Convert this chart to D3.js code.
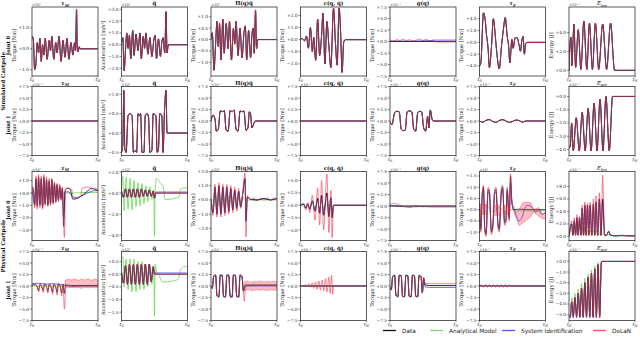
<!DOCTYPE html>
<html>
<head>
<meta charset="utf-8">
<script src="https://cdn.jsdelivr.net/npm/d3@7"></script>
<style>
body { margin: 0; background: #fff; }
svg { display: block; }
</style>
</head>
<body>
<script>
// ---- layout labels ----
const rowGroups = ["Simulated Cartpole", "Physical Cartpole"];
const jointLabels = ["Joint 0", "Joint 1", "Joint 0", "Joint 1"];
const colTitles = [["τ", "M"], ["q\u0308", ""], ["H(q)q\u0308", ""], ["c(q, q\u0307)", ""], ["g(q)", ""], ["τ", "F"]];
const energyTitles = [["E", "kin"], ["E", "pot"], ["E", "kin"], ["E", "pot"]];
const yLabels = ["Torque [Nm]", "Acceleration [m/s²]", "Torque [Nm]", "Torque [Nm]", "Torque [Nm]", "Torque [Nm]", "Energy [J]"];
const seriesNames = ["Data", "Analytical Model", "System Identification", "DeLaN"];

const sym = [-7.5, -5, -2.5, 0, 2.5, 5, 7.5];
const yDomains = [
  [[-1.3, 2.0], [-2.65, 3.2], [-1.6, 1.43], [-3.0, 2.7], [-7.5, 7.5], [-5.7, 6.0], [-0.6, 6.7]],
  [[-7.5, 7.5], [-0.58, 1.2], [-7.5, 7.5], [-7.5, 7.5], [-7.5, 7.5], [-7.5, 7.5], [-4.45, 0.75]],
  [[-3.85, 1.75], [-4.5, 2.05], [-2.85, 2.0], [-7.1, 6.8], [-7.5, 7.5], [-1.37, 1.7], [-0.65, 10.4]],
  [[-7.5, 7.5], [-1.83, 0.9], [-7.5, 7.5], [-7.5, 7.5], [-7.5, 7.5], [-7.5, 7.5], [-5.55, 0.93]]
];
const yTicks = [
  [[-1, 0, 1], [-2, -1, 0, 1, 2, 3], [-1, -0.5, 0, 0.5, 1], [-2, -1, 0, 1, 2], sym, [-4, -2, 0, 2, 4], [0, 2, 4]],
  [sym, [-0.5, 0, 0.5, 1], sym, sym, sym, sym, [-4, -3, -2, -1, 0]],
  [[-3, -2, -1, 0, 1], [-4, -2, 0, 2], [-2, -1, 0, 1, 2], [-5, -2.5, 0, 2.5, 5], sym, [-1, -0.5, 0, 0.5, 1, 1.5], [0, 2, 4, 6, 8]],
  [sym, [-1.5, -1, -0.5, 0, 0.5], sym, sym, sym, sym, [-5, -4, -3, -2, -1, 0]]
];
const exps = [
  ["×10¹", "×10¹", "×10¹", "", "×10⁻¹", "", "×10⁻¹"],
  ["×10⁻¹", "×10¹", "×10⁻¹", "×10⁻¹", "×10⁻¹", "×10⁻¹", "×10⁻¹"],
  ["×10¹", "×10¹", "×10¹", "", "×10⁻¹", "×10¹", "×10⁻¹"],
  ["×10⁻¹", "×10¹", "×10⁻¹", "×10⁻¹", "×10⁻¹", "×10⁻¹", "×10⁻¹"]
];

// ---- series: [t, value], t from t0 (0) to tN (1) ----
// simulated, joint 0
const r0c0Data = [[0,0.6],[0.02,0.45],[0.04,-1.0],[0.06,-0.7],[0.08,0.3],[0.1,-0.2],[0.12,0.5],[0.14,-0.6],[0.16,0.2],[0.18,-0.3],[0.2,0.5],[0.23,-0.5],[0.26,0.4],[0.28,-0.1],[0.3,0.6],[0.33,-0.5],[0.36,0.3],[0.38,-0.2],[0.41,0.6],[0.44,-0.6],[0.47,0.4],[0.5,-0.4],[0.53,0.5],[0.56,-0.5],[0.59,0.3],[0.62,-0.3],[0.645,0.3],[0.66,-0.1],[0.675,1.9],[0.685,0.1],[0.7,-0.15],[0.715,0.1],[0.73,0.0],[1,0.0]];
const r0c1Data = [[0,0.2],[0.02,0.6],[0.04,-2.2],[0.06,-0.5],[0.08,1.0],[0.1,-0.3],[0.12,0.8],[0.14,-1.2],[0.17,1.2],[0.19,-0.9],[0.22,0.9],[0.25,-0.5],[0.28,1.0],[0.3,-1.2],[0.33,0.7],[0.35,-0.3],[0.37,1.0],[0.4,-0.8],[0.43,0.6],[0.46,-1.0],[0.49,0.4],[0.51,0.8],[0.53,-1.2],[0.56,0.5],[0.59,-1.0],[0.61,0.2],[0.63,0.6],[0.655,-0.7],[0.675,2.8],[0.69,-0.7],[0.71,0.0],[1,0.0]];
const r0c2Data = [[0,0.0],[0.02,0.3],[0.045,-1.35],[0.07,-0.2],[0.09,0.8],[0.11,-0.3],[0.13,0.7],[0.15,-0.9],[0.18,0.9],[0.2,-0.6],[0.23,0.7],[0.26,-0.4],[0.28,0.8],[0.31,-0.9],[0.34,0.5],[0.36,-0.2],[0.38,0.8],[0.41,-0.7],[0.44,0.5],[0.47,-0.8],[0.5,0.3],[0.52,0.6],[0.54,-0.9],[0.57,0.4],[0.6,-0.8],[0.62,0.2],[0.64,0.5],[0.655,-0.6],[0.675,1.3],[0.69,-0.4],[0.71,0.0],[1,0.0]];
const r0c3Data = [[0,0.0],[0.03,0.1],[0.06,-0.1],[0.09,0.3],[0.12,-0.7],[0.15,1.0],[0.18,-1.0],[0.2,0.2],[0.23,-1.7],[0.26,1.7],[0.29,-1.3],[0.32,0.4],[0.34,2.2],[0.37,-2.0],[0.4,1.5],[0.43,-0.5],[0.46,-2.3],[0.5,2.6],[0.53,-0.3],[0.555,-2.1],[0.585,2.6],[0.61,0.3],[0.63,-2.7],[0.655,-0.2],[0.68,0.0],[1,0.0]];
const r0c4Data = [[0,0.0],[1,0.0]];
const r0c4Sysid = [[0,0.1],[0.3,0.1],[0.6,0.2],[0.7,0.3],[1,0.3]];
const r0c4Delan = [[0,0.4],[0.05,0.1],[0.1,0.4],[0.15,0.2],[0.2,0.5],[0.25,0.2],[0.3,0.4],[0.35,0.1],[0.4,0.3],[0.45,0.5],[0.5,0.2],[0.55,0.5],[0.6,0.1],[0.65,0.3],[0.7,-0.1],[1,-0.1]];
const r0c5Data = [[0,-4.0],[0.02,-3.5],[0.06,5.0],[0.09,3.5],[0.1,2.0],[0.13,-1.0],[0.15,-4.3],[0.18,-1.0],[0.21,4.0],[0.24,1.0],[0.26,-1.5],[0.3,-4.5],[0.33,-1.0],[0.36,2.0],[0.39,4.2],[0.42,1.0],[0.44,-0.5],[0.46,-3.5],[0.49,0.5],[0.51,-1.0],[0.54,0.8],[0.57,0.8],[0.6,-0.5],[0.62,-1.5],[0.64,0.2],[0.66,1.0],[0.68,-2.0],[0.7,-0.2],[0.72,0.0],[1,0.0]];
const r0c6Data = [[0,0.0],[0.02,3.2],[0.03,3.5],[0.045,0.5],[0.06,3.0],[0.075,4.9],[0.1,0.3],[0.14,4.3],[0.18,0.1],[0.225,5.2],[0.27,0.1],[0.31,5.0],[0.355,0.1],[0.4,5.0],[0.45,0.1],[0.51,4.9],[0.57,0.1],[0.63,5.0],[0.69,0.0],[1,0.0]];
// simulated, joint 1
const r1c0Data = [[0,0.0],[1,0.0]];
const r1c1Data = [[0,-0.5],[0.02,-0.3],[0.035,1.1],[0.05,-0.4],[0.07,-0.5],[0.1,0.45],[0.13,0.5],[0.16,0.45],[0.18,-0.5],[0.21,-0.45],[0.23,-0.5],[0.25,0.5],[0.27,0.45],[0.29,0.5],[0.31,-0.5],[0.34,-0.5],[0.36,0.45],[0.39,0.5],[0.41,0.4],[0.43,-0.5],[0.46,-0.45],[0.48,0.5],[0.52,0.45],[0.54,-0.5],[0.56,-0.4],[0.58,0.5],[0.61,0.45],[0.63,-0.5],[0.65,0.5],[0.675,1.1],[0.69,0.0],[1,0.0]];
const r1c2Data = [[0,0.0],[0.03,1.3],[0.06,0.5],[0.08,-2.2],[0.11,-1.8],[0.14,2.2],[0.18,2.0],[0.2,2.3],[0.23,-2.0],[0.26,-2.2],[0.29,2.3],[0.32,2.0],[0.35,2.4],[0.38,-1.8],[0.41,-2.2],[0.44,2.2],[0.47,2.0],[0.5,2.2],[0.53,-2.0],[0.56,-1.5],[0.58,2.0],[0.6,1.5],[0.62,-1.5],[0.65,-0.5],[0.67,0.0],[1,0.0]];
const r1c3Data = [[0,0.0],[1,0.0]];
const r1c4Data = [[0,-0.2],[0.03,-0.8],[0.07,1.8],[0.1,2.1],[0.14,2.0],[0.17,-1.8],[0.2,-2.1],[0.23,-2.0],[0.26,2.0],[0.3,2.2],[0.33,2.0],[0.36,-1.8],[0.39,-2.2],[0.42,1.8],[0.45,2.1],[0.48,2.0],[0.51,-1.5],[0.54,-2.2],[0.57,1.0],[0.59,-1.5],[0.61,2.4],[0.64,0.3],[0.66,0.0],[1,0.0]];
const r1c5Data = [[0,0.0],[0.05,-0.25],[0.1,0.15],[0.15,0.3],[0.2,-0.1],[0.25,-0.3],[0.3,0.1],[0.35,0.3],[0.4,0.0],[0.45,-0.3],[0.5,-0.1],[0.55,0.2],[0.6,0.1],[0.65,-0.25],[0.7,0.0],[1,0.0]];
const r1c6Data = [[0,-3.9],[0.02,-3.7],[0.04,-2.0],[0.065,-4.1],[0.11,-1.6],[0.155,-4.1],[0.2,-1.2],[0.245,-4.1],[0.29,-0.9],[0.335,-4.1],[0.38,-0.5],[0.425,-4.1],[0.47,-0.2],[0.515,-4.1],[0.56,0.0],[0.61,-4.1],[0.66,0.0],[1,0.0]];
// physical, joint 0
const r2c0Data = [[0,0.5],[0.02,0.3],[0.04,-1.0],[0.06,1.2],[0.08,-1.1],[0.1,1.3],[0.12,-1.0],[0.14,1.2],[0.16,-1.2],[0.18,1.3],[0.2,-0.9],[0.22,1.1],[0.24,-1.0],[0.26,1.0],[0.28,-0.9],[0.3,1.1],[0.32,-0.8],[0.34,0.8],[0.36,-0.7],[0.38,0.7],[0.4,-0.6],[0.42,0.6],[0.44,-0.5],[0.46,0.4],[0.48,-2.7],[0.5,0.2],[0.53,0.4],[0.58,0.3],[0.6,-0.2],[0.62,-0.5],[0.7,-0.4],[0.78,-0.1],[0.85,0.2],[0.9,0.4],[0.95,0.3],[1,0.2]];
const r2c0Model = [[0,0.1],[0.04,-0.3],[0.08,0.3],[0.12,-0.3],[0.16,0.3],[0.2,-0.2],[0.24,0.3],[0.28,-0.2],[0.32,0.2],[0.36,-0.2],[0.4,0.2],[0.44,-0.1],[0.48,0.0],[0.6,0.0],[0.8,0.05],[1,0.05]];
const r2c0Sysid = [[0,0.4],[0.04,-0.9],[0.06,1.1],[0.08,-1.0],[0.1,1.2],[0.12,-0.9],[0.14,1.1],[0.16,-1.1],[0.18,1.2],[0.2,-0.8],[0.22,1.0],[0.24,-0.9],[0.26,0.9],[0.28,-0.8],[0.3,1.0],[0.32,-0.7],[0.34,0.7],[0.36,-0.6],[0.38,0.6],[0.4,-0.5],[0.42,0.5],[0.44,-0.4],[0.46,0.3],[0.48,-2.0],[0.5,0.1],[0.55,0.1],[0.6,-0.2],[0.65,-0.4],[0.72,-0.3],[0.8,-0.1],[0.88,0.1],[0.95,0.2],[1,0.2]];
const r2c0Delan = [[0,0.6],[0.02,0.2],[0.04,-1.2],[0.06,1.4],[0.08,-1.3],[0.1,1.5],[0.12,-1.2],[0.14,1.4],[0.16,-1.3],[0.18,1.5],[0.2,-1.0],[0.22,1.3],[0.24,-1.1],[0.26,1.2],[0.28,-1.0],[0.3,1.2],[0.32,-0.9],[0.34,0.9],[0.36,-0.8],[0.38,0.8],[0.4,-0.7],[0.42,0.7],[0.44,-0.6],[0.46,0.5],[0.49,-3.6],[0.51,0.3],[0.55,0.4],[0.6,0.3],[0.62,-0.3],[0.68,-0.4],[0.74,-0.2],[0.76,0.4],[0.85,0.5],[0.9,0.3],[0.95,0.4],[1,0.3]];
const r2c1Data = [[0,0.2],[0.03,-0.4],[0.06,0.4],[0.09,-0.4],[0.12,0.4],[0.15,-0.4],[0.18,0.4],[0.21,-0.4],[0.24,0.4],[0.27,-0.4],[0.3,0.4],[0.33,-0.3],[0.36,0.3],[0.39,-0.3],[0.42,0.3],[0.45,-0.3],[0.48,0.2],[0.5,-0.5],[0.52,0.0],[1,0.0]];
const r2c1Model = [[0,0.3],[0.02,1.6],[0.04,-1.7],[0.07,1.5],[0.1,-1.5],[0.13,1.4],[0.16,-1.6],[0.19,1.2],[0.22,-1.3],[0.25,1.0],[0.28,-1.2],[0.31,0.9],[0.34,-1.0],[0.37,0.7],[0.4,-0.8],[0.43,0.6],[0.46,-0.6],[0.49,0.3],[0.5,-4.1],[0.51,0.2],[0.53,1.4],[0.58,1.0],[0.63,0.6],[0.66,-0.6],[0.72,-0.6],[0.8,-0.5],[0.87,-0.4],[0.9,0.4],[0.95,0.5],[1,0.5]];
const r2c1Sysid = [[0,0.2],[0.03,-0.4],[0.06,0.4],[0.09,-0.4],[0.12,0.4],[0.15,-0.4],[0.18,0.4],[0.21,-0.4],[0.24,0.4],[0.27,-0.4],[0.3,0.4],[0.33,-0.3],[0.36,0.3],[0.39,-0.3],[0.42,0.3],[0.45,-0.3],[0.48,0.2],[0.5,-0.4],[0.52,0.1],[1,0.1]];
const r2c2Data = [[0,0.1],[0.03,-0.9],[0.06,0.9],[0.09,-1.0],[0.12,1.0],[0.15,-1.0],[0.18,0.9],[0.21,-0.9],[0.24,0.9],[0.27,-0.8],[0.3,0.8],[0.33,-0.7],[0.36,0.7],[0.39,-0.6],[0.42,0.6],[0.45,-0.5],[0.48,0.4],[0.515,1.5],[0.53,-1.5],[0.55,0.2],[0.6,0.05],[0.7,0.0],[0.8,0.1],[0.9,0.0],[1,0.1]];
const r2c2Model = [[0,0.0],[0.03,-0.5],[0.06,0.5],[0.09,-0.6],[0.12,0.6],[0.15,-0.6],[0.18,0.5],[0.21,-0.5],[0.24,0.5],[0.27,-0.4],[0.3,0.4],[0.33,-0.4],[0.36,0.4],[0.39,-0.3],[0.42,0.3],[0.45,-0.3],[0.48,0.2],[0.52,0.0],[1,0.0]];
const r2c2Delan = [[0,0.1],[0.03,-1.1],[0.06,1.1],[0.09,-1.2],[0.12,1.2],[0.15,-1.2],[0.18,1.1],[0.21,-1.1],[0.24,1.1],[0.27,-1.0],[0.3,1.0],[0.33,-0.9],[0.36,0.9],[0.39,-0.8],[0.42,0.8],[0.45,-0.6],[0.48,0.5],[0.515,1.9],[0.53,-2.6],[0.55,0.3],[0.6,0.0],[0.65,0.15],[0.7,-0.05],[0.75,0.1],[0.8,0.0],[0.85,0.15],[0.9,0.0],[0.95,0.15],[1,0.1]];
const r2c3Data = [[0,0.0],[0.05,0.2],[0.08,-0.6],[0.11,0.3],[0.14,-0.8],[0.18,0.9],[0.22,-1.2],[0.26,1.4],[0.29,-1.6],[0.32,2.0],[0.35,-2.0],[0.4,2.5],[0.43,-2.3],[0.46,1.5],[0.48,-2.5],[0.5,0.0],[1,0.0]];
const r2c3Model = [[0,0.0],[0.08,-0.3],[0.14,-0.4],[0.18,0.4],[0.22,-0.6],[0.26,0.7],[0.29,-0.8],[0.32,1.0],[0.35,-1.0],[0.4,1.2],[0.43,-1.1],[0.46,0.7],[0.48,-1.2],[0.5,0.0],[1,0.0]];
const r2c3Delan = [[0,0.0],[0.05,0.4],[0.08,-1.0],[0.11,0.5],[0.14,-1.5],[0.18,2.0],[0.22,-3.0],[0.26,3.5],[0.29,-4.0],[0.32,5.0],[0.35,-5.0],[0.4,6.3],[0.43,-5.5],[0.46,3.0],[0.48,-6.5],[0.5,0.0],[1,0.0]];
const r2c4Data = [[0,0.0],[1,0.0]];
const r2c4Sysid = [[0,0.1],[0.3,-0.2],[0.5,-0.1],[0.6,-0.2],[1,-0.2]];
const r2c4Delan = [[0,0.3],[0.05,0.6],[0.1,0.4],[0.2,0.0],[0.3,-0.3],[0.4,0.1],[0.5,-0.2],[0.6,0.0],[1,0.0]];
const r2c5Data = [[0,0.3],[0.02,-0.9],[0.04,0.6],[0.06,1.0],[0.08,-0.9],[0.1,-1.1],[0.13,0.9],[0.15,0.8],[0.18,-1.0],[0.2,-0.8],[0.23,0.8],[0.25,0.9],[0.28,-0.7],[0.3,-0.9],[0.33,0.8],[0.35,1.0],[0.38,-0.6],[0.4,-0.5],[0.42,0.9],[0.45,-0.4],[0.47,1.5],[0.49,0.4],[0.51,0.0],[0.6,0.02],[0.8,0.0],[1,0.0]];
const r2c5Model = [[0,0.0],[0.05,-0.2],[0.1,0.2],[0.2,-0.1],[0.3,0.1],[0.4,-0.1],[0.5,0.0],[0.55,-0.05],[0.7,-0.05],[1,-0.05]];
const r2c5Sysid = [[0,0.3],[0.02,-0.8],[0.04,0.6],[0.06,0.9],[0.08,-0.8],[0.1,-1.0],[0.13,0.8],[0.15,0.7],[0.18,-0.9],[0.2,-0.7],[0.23,0.7],[0.25,0.8],[0.28,-0.6],[0.3,-0.8],[0.33,0.7],[0.35,0.9],[0.38,-0.5],[0.4,-0.4],[0.42,0.8],[0.45,-0.3],[0.47,1.2],[0.49,0.3],[0.52,0.1],[0.56,-0.3],[0.6,-0.5],[0.65,-0.3],[0.68,0.0],[0.72,0.2],[0.8,0.1],[0.85,-0.1],[0.9,0.0],[0.94,-0.2],[1,-0.15]];
const r2c5Delan = [[0,0.3],[0.02,-1.0],[0.04,0.7],[0.06,1.1],[0.08,-1.0],[0.1,-1.2],[0.13,1.0],[0.15,0.9],[0.18,-1.1],[0.2,-0.9],[0.23,0.9],[0.25,1.0],[0.28,-0.8],[0.3,-1.0],[0.33,0.9],[0.35,1.1],[0.38,-0.7],[0.4,-0.6],[0.42,1.0],[0.45,-0.5],[0.47,1.6],[0.49,0.4],[0.52,0.0]];
const r2c5Band = [[0.01,-0.2,0.25],[0.1,-0.2,0.25],[0.11,null,null],[0.22,-0.25,0.2],[0.32,-0.25,0.2],[0.33,null,null],[0.37,-0.2,0.2],[0.46,-0.2,0.2],[0.47,null,null],[0.52,-0.1,0.0],[0.56,-0.4,-0.1],[0.6,-0.7,0.0],[0.65,-0.6,0.3],[0.7,-0.5,0.35],[0.78,-0.3,0.3],[0.82,-0.1,0.0],[0.86,-0.2,0.05],[0.9,-0.3,0.1],[0.95,-0.4,-0.2],[1,-0.4,-0.1]];
const r2c6Data = [[0,0.0],[0.04,2.0],[0.06,0.2],[0.08,2.5],[0.1,0.2],[0.12,3.0],[0.14,0.2],[0.16,3.0],[0.18,0.2],[0.2,4.5],[0.22,0.2],[0.24,5.0],[0.26,0.2],[0.28,5.0],[0.3,0.2],[0.32,5.0],[0.345,0.2],[0.37,5.2],[0.39,0.2],[0.41,5.5],[0.435,0.2],[0.46,6.0],[0.485,0.2],[0.51,6.0],[0.54,0.2],[0.57,0.2],[0.6,0.8],[0.63,0.2],[0.7,0.1],[0.8,0.15],[0.9,0.1],[1,0.1]];
const r2c6Model = [[0,0.0],[0.04,1.0],[0.06,0.2],[0.08,2.0],[0.1,0.3],[0.12,2.5],[0.14,0.3],[0.16,2.5],[0.18,0.3],[0.2,1.5],[0.22,0.2],[0.24,1.5],[0.26,0.2],[0.28,1.0],[0.3,0.2],[0.32,1.0],[0.345,0.2],[0.37,1.0],[0.39,0.2],[0.41,1.0],[0.435,0.1],[0.46,0.5],[0.485,0.1],[0.51,0.5],[0.54,0.1],[0.6,0.3],[0.7,0.1],[1,0.1]];
const r2c6Delan = [[0,0.0],[0.04,2.5],[0.06,0.2],[0.08,3.0],[0.1,0.2],[0.12,3.5],[0.14,0.2],[0.16,3.2],[0.18,0.2],[0.2,5.0],[0.22,0.2],[0.24,5.5],[0.26,0.2],[0.28,5.3],[0.3,0.2],[0.32,5.5],[0.345,0.2],[0.37,6.0],[0.39,0.2],[0.41,6.5],[0.435,0.2],[0.46,7.0],[0.485,0.2],[0.51,9.8],[0.54,0.2],[0.57,0.2],[0.6,0.9],[0.63,0.2],[0.7,0.1],[0.8,0.2],[0.9,0.1],[1,0.1]];
// physical, joint 1
const r3c0Data = [[0,0.1],[0.05,0.3],[0.08,-0.2],[0.1,-1.0],[0.12,0.3],[0.15,-0.2],[0.17,-1.0],[0.19,0.4],[0.22,-0.1],[0.24,-1.2],[0.26,0.3],[0.29,-0.2],[0.31,-1.3],[0.33,0.3],[0.36,-0.2],[0.38,-1.4],[0.4,0.4],[0.43,-0.2],[0.45,-1.5],[0.47,0.3],[0.49,-1.6],[0.51,0.2],[0.6,0.1],[0.8,0.1],[1,0.1]];
const r3c0Model = [[0,0.0],[1,0.0]];
const r3c0Sysid = [[0,0.5],[0.1,0.6],[0.2,0.4],[0.3,0.5],[0.4,0.4],[0.5,0.2],[0.6,-0.1],[0.8,0.0],[1,0.0]];
const r3c0Delan = [[0,0.2],[0.05,0.5],[0.08,-0.3],[0.1,-1.3],[0.12,0.5],[0.15,-0.3],[0.17,-1.4],[0.19,0.6],[0.22,-0.2],[0.24,-1.6],[0.26,0.5],[0.29,-0.3],[0.31,-1.8],[0.33,0.5],[0.36,-0.3],[0.38,-2.0],[0.4,0.6],[0.43,-0.3],[0.45,-2.2],[0.47,0.4],[0.49,-5.0],[0.51,0.5]];
const r3c0Band = [[0.5,-0.3,1.2],[0.55,-0.4,1.5],[0.6,-0.3,1.3],[0.65,-0.4,1.6],[0.7,-0.3,1.2],[0.75,-0.5,1.5],[0.8,-0.3,1.3],[0.85,-0.4,1.6],[0.9,-0.3,1.2],[0.95,-0.4,1.5],[1,-0.3,1.3]];
const r3c1Data = [[0,0.1],[0.03,-0.35],[0.06,0.35],[0.09,-0.4],[0.12,0.4],[0.15,-0.4],[0.18,0.4],[0.21,-0.4],[0.24,0.4],[0.27,-0.4],[0.3,0.4],[0.33,-0.4],[0.36,0.4],[0.39,-0.4],[0.42,0.4],[0.45,-0.3],[0.48,0.3],[0.5,0.0],[1,0.0]];
const r3c1Model = [[0,0.6],[0.02,0.7],[0.04,-0.5],[0.07,0.6],[0.1,-0.6],[0.13,0.6],[0.16,-0.7],[0.19,0.6],[0.22,-0.7],[0.25,0.5],[0.28,-0.6],[0.31,0.5],[0.34,-0.6],[0.37,0.4],[0.4,-0.5],[0.43,0.4],[0.46,-0.4],[0.49,0.3],[0.5,-1.65],[0.51,0.4],[0.53,0.1],[0.58,-0.1],[0.62,-0.3],[0.7,-0.3],[0.8,-0.25],[0.86,-0.2],[0.9,0.2],[0.95,0.3],[1,0.3]];
const r3c1Sysid = [[0,0.1],[0.03,-0.35],[0.06,0.35],[0.09,-0.4],[0.12,0.4],[0.15,-0.4],[0.18,0.4],[0.21,-0.4],[0.24,0.4],[0.27,-0.4],[0.3,0.4],[0.33,-0.4],[0.36,0.4],[0.39,-0.4],[0.42,0.4],[0.45,-0.3],[0.48,0.3],[0.5,0.05],[1,0.05]];
const r3c2Data = [[0,0.0],[0.02,-0.5],[0.04,2.0],[0.07,2.3],[0.09,-2.0],[0.12,-2.3],[0.14,2.3],[0.17,2.2],[0.19,-2.2],[0.22,-2.3],[0.24,2.3],[0.27,2.2],[0.29,-2.2],[0.32,-2.3],[0.34,2.3],[0.37,2.2],[0.39,-2.2],[0.42,-2.3],[0.44,2.3],[0.47,2.0],[0.49,-1.0],[0.5,-0.8],[0.52,0.2],[0.6,0.2],[1,0.2]];
const r3c2Sysid = [[0,0.0],[0.02,-0.5],[0.04,2.2],[0.07,2.5],[0.09,-2.2],[0.12,-2.5],[0.14,2.5],[0.17,2.4],[0.19,-2.4],[0.22,-2.5],[0.24,2.5],[0.27,2.4],[0.29,-2.4],[0.32,-2.5],[0.34,2.5],[0.37,2.4],[0.39,-2.4],[0.42,-2.5],[0.44,2.5],[0.47,2.2],[0.49,-1.2],[0.5,-0.8],[0.52,0.0],[1,0.0]];
const r3c2Delan = [[0,0.0],[0.02,-0.5],[0.04,2.0],[0.07,2.3],[0.09,-2.0],[0.12,-2.3],[0.14,2.3],[0.17,2.2],[0.19,-2.2],[0.22,-2.3],[0.24,2.3],[0.27,2.2],[0.29,-2.2],[0.32,-2.3],[0.34,2.3],[0.37,2.2],[0.39,-2.2],[0.42,-2.3],[0.44,2.3],[0.47,2.0],[0.49,-1.0],[0.505,-3.3],[0.52,0.2]];
const r3c2Band = [[0.51,-1.0,0.9],[0.55,-0.8,1.1],[0.6,-0.9,0.8],[0.65,-1.0,1.0],[0.7,-0.8,0.9],[0.75,-0.9,1.1],[0.8,-0.8,0.8],[0.85,-1.0,1.0],[0.9,-0.8,0.9],[0.95,-0.9,1.0],[1,-0.8,0.9]];
const r3c3Data = [[0,0.0],[1,0.0]];
const r3c3Delan = [[0,0.0],[0.05,0.0],[0.08,0.3],[0.1,-0.2],[0.13,0.5],[0.15,-0.3],[0.18,0.7],[0.2,-0.5],[0.23,0.9],[0.25,-0.7],[0.28,1.1],[0.3,-0.9],[0.33,1.3],[0.35,-1.1],[0.38,1.6],[0.4,-1.3],[0.43,1.9],[0.45,-1.6],[0.47,2.3],[0.49,-1.8],[0.5,0.0],[1,0.0]];
const r3c4Data = [[0,-0.2],[0.02,-0.8],[0.04,2.0],[0.07,2.3],[0.09,-2.0],[0.12,-2.3],[0.14,2.3],[0.17,2.2],[0.19,-2.2],[0.22,-2.3],[0.24,2.3],[0.27,2.2],[0.29,-2.2],[0.32,-2.3],[0.34,2.3],[0.37,2.2],[0.39,-2.2],[0.42,-2.3],[0.44,2.3],[0.47,2.0],[0.49,-1.5],[0.51,1.8],[0.53,0.3],[0.6,0.1],[1,0.1]];
const r3c4Sysid = [[0,-0.2],[0.02,-0.8],[0.04,2.1],[0.07,2.4],[0.09,-2.1],[0.12,-2.4],[0.14,2.4],[0.17,2.3],[0.19,-2.3],[0.22,-2.4],[0.24,2.4],[0.27,2.3],[0.29,-2.3],[0.32,-2.4],[0.34,2.4],[0.37,2.3],[0.39,-2.3],[0.42,-2.4],[0.44,2.4],[0.47,2.1],[0.49,-1.5],[0.51,1.5],[0.53,-0.2],[0.6,-0.3],[1,-0.3]];
const r3c4Delan = [[0,-0.2],[0.02,-0.8],[0.04,2.0],[0.07,2.3],[0.09,-2.0],[0.12,-2.3],[0.14,2.3],[0.17,2.2],[0.19,-2.2],[0.22,-2.3],[0.24,2.3],[0.27,2.2],[0.29,-2.2],[0.32,-2.3],[0.34,2.3],[0.37,2.2],[0.39,-2.2],[0.42,-2.3],[0.44,2.3],[0.47,2.0],[0.49,-1.5],[0.51,1.8],[0.53,0.6],[0.6,0.5],[1,0.5]];
const r3c5Data = [[0,0.0],[1,0.0]];
const r3c5Sysid = [[0,0.0],[0.03,0.2],[0.06,-0.2],[0.09,0.25],[0.12,-0.2],[0.15,0.25],[0.18,-0.2],[0.21,0.25],[0.24,-0.2],[0.27,0.25],[0.3,-0.2],[0.33,0.25],[0.36,-0.2],[0.39,0.25],[0.42,-0.2],[0.45,0.25],[0.48,-0.1],[0.5,0.0],[1,0.0]];
const r3c5Model = [[0,0.0],[0.03,0.1],[0.06,-0.1],[0.09,0.15],[0.12,-0.1],[0.15,0.15],[0.18,-0.1],[0.21,0.15],[0.24,-0.1],[0.27,0.15],[0.3,-0.1],[0.33,0.15],[0.36,-0.1],[0.39,0.15],[0.42,-0.1],[0.45,0.1],[0.5,0.0],[1,0.0]];
const r3c6Data = [[0,-5.2],[0.02,-5.2],[0.04,-3.8],[0.065,-5.2],[0.09,-3.4],[0.115,-5.2],[0.14,-3.0],[0.165,-5.2],[0.19,-2.5],[0.215,-5.2],[0.24,-2.0],[0.265,-5.2],[0.29,-1.5],[0.315,-5.2],[0.34,-1.1],[0.365,-5.2],[0.39,-0.7],[0.415,-5.2],[0.44,-0.3],[0.465,-5.2],[0.49,-0.1],[0.5,0.0],[1,0.0]];
const r3c6Model = [[0,-4.2],[0.03,-4.2],[0.045,-3.4],[0.065,-5.0],[0.09,-3.0],[0.115,-5.0],[0.14,-2.6],[0.165,-5.0],[0.19,-2.1],[0.215,-5.0],[0.24,-1.6],[0.265,-5.0],[0.29,-1.2],[0.315,-5.0],[0.34,-0.8],[0.365,-5.0],[0.39,-0.4],[0.415,-5.0],[0.44,-0.1],[0.465,-5.0],[0.49,0.0],[0.5,0.0],[1,0.0]];
const r3c6Sysid = [[0,-5.0],[0.02,-5.3],[0.04,-3.8],[0.065,-5.3],[0.09,-3.4],[0.115,-5.3],[0.14,-3.0],[0.165,-5.3],[0.19,-2.5],[0.215,-5.3],[0.24,-2.0],[0.265,-5.3],[0.29,-1.5],[0.315,-5.3],[0.34,-1.1],[0.365,-5.3],[0.39,-0.7],[0.415,-5.3],[0.44,-0.3],[0.465,-5.3],[0.49,-0.1],[0.5,0.0],[1,0.0]];

// which arrays go in which panel (missing series fall back to the data array)
const panels = [
  {r:0,c:0,data:r0c0Data},{r:0,c:1,data:r0c1Data},{r:0,c:2,data:r0c2Data},{r:0,c:3,data:r0c3Data},
  {r:0,c:4,data:r0c4Data,sysid:r0c4Sysid,delan:r0c4Delan},{r:0,c:5,data:r0c5Data},{r:0,c:6,data:r0c6Data},
  {r:1,c:0,data:r1c0Data},{r:1,c:1,data:r1c1Data},{r:1,c:2,data:r1c2Data},{r:1,c:3,data:r1c3Data},
  {r:1,c:4,data:r1c4Data},{r:1,c:5,data:r1c5Data},{r:1,c:6,data:r1c6Data},
  {r:2,c:0,data:r2c0Data,model:r2c0Model,sysid:r2c0Sysid,delan:r2c0Delan},
  {r:2,c:1,data:r2c1Data,model:r2c1Model,sysid:r2c1Sysid},
  {r:2,c:2,data:r2c2Data,model:r2c2Model,delan:r2c2Delan},
  {r:2,c:3,data:r2c3Data,model:r2c3Model,delan:r2c3Delan},
  {r:2,c:4,data:r2c4Data,sysid:r2c4Sysid,delan:r2c4Delan},
  {r:2,c:5,data:r2c5Data,model:r2c5Model,sysid:r2c5Sysid,delan:r2c5Delan,band:r2c5Band},
  {r:2,c:6,data:r2c6Data,model:r2c6Model,delan:r2c6Delan},
  {r:3,c:0,data:r3c0Data,model:r3c0Model,sysid:r3c0Sysid,delan:r3c0Delan,band:r3c0Band},
  {r:3,c:1,data:r3c1Data,model:r3c1Model,sysid:r3c1Sysid},
  {r:3,c:2,data:r3c2Data,sysid:r3c2Sysid,delan:r3c2Delan,band:r3c2Band},
  {r:3,c:3,data:r3c3Data,delan:r3c3Delan},
  {r:3,c:4,data:r3c4Data,sysid:r3c4Sysid,delan:r3c4Delan},
  {r:3,c:5,data:r3c5Data,model:r3c5Model,sysid:r3c5Sysid},
  {r:3,c:6,data:r3c6Data,model:r3c6Model,sysid:r3c6Sysid}
];

// ---- drawing ----
const W = 640, H = 337;
const serif = "'DejaVu Serif', serif";
const colors = {data: "#111", model: "#62d64e", sysid: "#3a3aff", delan: "#f0304a"};
const pw = 66, ph = 69;
const colX = d3.range(7).map(c => 32 + c * 89.5);
const rowY = [7, 86.5, 171.5, 251.5];
const fmt = d3.format("+.1f");

const svg = d3.select("body").append("svg")
  .attr("width", W)
  .attr("height", H);

svg.append("rect").attr("width", W).attr("height", H).attr("fill", "#fff");

const defs = svg.append("defs");

panels.forEach(p => {
  const left = colX[p.c], top = rowY[p.r];
  const x = d3.scaleLinear().domain([0, 1]).range([left, left + pw]);
  const y = d3.scaleLinear().domain(yDomains[p.r][p.c]).range([top + ph, top]);
  const g = svg.append("g");
  const clipId = "clip" + p.r + p.c;

  defs.append("clipPath").attr("id", clipId)
    .append("rect").attr("x", left).attr("y", top).attr("width", pw).attr("height", ph);

  const line = d3.line().x(d => x(d[0])).y(d => y(d[1])).curve(d3.curveMonotoneX);
  const plot = g.append("g").attr("clip-path", "url(#" + clipId + ")");

  const draw = (arr, col, width, op) => plot.append("path")
    .attr("d", line(arr))
    .attr("fill", "none")
    .attr("stroke", col)
    .attr("stroke-width", width)
    .attr("stroke-opacity", op)
    .attr("stroke-linejoin", "round");

  draw(p.model || p.data, colors.model, 0.9, 0.85);
  draw(p.sysid || p.data, colors.sysid, 0.9, 0.85);
  draw(p.data, colors.data, 0.8, 1);
  if (p.band) {
    const area = d3.area()
      .defined(d => d[1] !== null)
      .x(d => x(d[0])).y0(d => y(d[1])).y1(d => y(d[2]));
    plot.append("path")
      .attr("d", area(p.band))
      .attr("fill", colors.delan)
      .attr("fill-opacity", 0.32)
      .attr("stroke", colors.delan)
      .attr("stroke-opacity", 0.6)
      .attr("stroke-width", 0.6);
  }
  draw(p.delan || p.data, colors.delan, 1.0, 0.6);

  // frame
  g.append("rect")
    .attr("x", left).attr("y", top).attr("width", pw).attr("height", ph)
    .attr("fill", "none").attr("stroke", "#333").attr("stroke-width", 0.8);

  // y ticks
  const ty = g.selectAll(".yt").data(yTicks[p.r][p.c]).enter().append("g");
  ty.append("line")
    .attr("x1", left - 2).attr("x2", left)
    .attr("y1", d => y(d)).attr("y2", d => y(d))
    .attr("stroke", "#333").attr("stroke-width", 0.6);
  ty.append("text")
    .attr("x", left - 3).attr("y", d => y(d) + 1.5)
    .attr("text-anchor", "end")
    .style("font-family", serif).style("font-size", "4.3px").style("fill", "#333")
    .text(d => fmt(d));

  // x ticks t0, tN
  [[0, "0"], [1, "N"]].forEach(([v, s]) => {
    g.append("line")
      .attr("x1", x(v)).attr("x2", x(v)).attr("y1", top + ph).attr("y2", top + ph + 1.6)
      .attr("stroke", "#333").attr("stroke-width", 0.6);
    const t = g.append("text")
      .attr("x", x(v)).attr("y", top + ph + 5.2)
      .attr("text-anchor", "middle")
      .style("font-family", serif).style("font-size", "4.8px").style("font-style", "italic").style("fill", "#222");
    t.append("tspan").text("t");
    t.append("tspan").attr("dy", 1).style("font-size", "3.4px").text(s);
  });

  // exponent
  if (exps[p.r][p.c]) {
    g.append("text")
      .attr("x", left).attr("y", top - 0.8)
      .style("font-family", serif).style("font-size", "3.6px").style("fill", "#333")
      .text(exps[p.r][p.c]);
  }

  // title
  const tt = p.c === 6 ? energyTitles[p.r] : colTitles[p.c];
  const title = g.append("text")
    .attr("x", left + pw / 2).attr("y", top - 1.8)
    .attr("text-anchor", "middle")
    .style("font-family", serif).style("font-size", "5.4px").style("fill", "#111")
    .style("font-weight", p.c === 6 ? "normal" : "bold")
    .style("font-style", (p.c === 0 || p.c === 5 || p.c === 6) ? "italic" : "normal");
  title.append("tspan").text(tt[0]);
  if (tt[1]) title.append("tspan").attr("dy", 1.3).style("font-size", "3.8px").text(tt[1]);

  // y label
  const cy = top + ph / 2 + 4;
  g.append("text")
    .attr("transform", "translate(" + (left - 16.5) + "," + cy + ") rotate(-90)")
    .attr("text-anchor", "middle")
    .style("font-family", serif).style("font-size", "5.2px").style("fill", "#222")
    .text(yLabels[p.c]);

  if (p.c === 0) {
    g.append("text")
      .attr("transform", "translate(" + 10 + "," + cy + ") rotate(-90)")
      .attr("text-anchor", "middle")
      .style("font-family", serif).style("font-size", "5.2px").style("font-weight", "bold").style("fill", "#111")
      .text(jointLabels[p.r]);
  }
});

rowGroups.forEach((name, i) => {
  const cy = (rowY[i * 2] + rowY[i * 2 + 1] + ph) / 2;
  svg.append("text")
    .attr("transform", "translate(5.2," + cy + ") rotate(-90)")
    .attr("text-anchor", "middle")
    .style("font-family", serif).style("font-size", "5.4px").style("font-weight", "bold").style("fill", "#111")
    .text(name);
});

// legend
const legendX = [383, 430, 502, 593];
const legendKeys = ["data", "model", "sysid", "delan"];
const leg = svg.append("g");
seriesNames.forEach((name, i) => {
  leg.append("line")
    .attr("x1", legendX[i]).attr("x2", legendX[i] + 13)
    .attr("y1", 330.5).attr("y2", 330.5)
    .attr("stroke", colors[legendKeys[i]]).attr("stroke-width", 1.3)
    .attr("stroke-opacity", i === 0 ? 1 : 0.85);
  leg.append("text")
    .attr("x", legendX[i] + 19).attr("y", 332.6)
    .style("font-family", "'DejaVu Sans', sans-serif").style("font-size", "5.8px").style("fill", "#222")
    .text(name);
});
</script>
</body>
</html>
